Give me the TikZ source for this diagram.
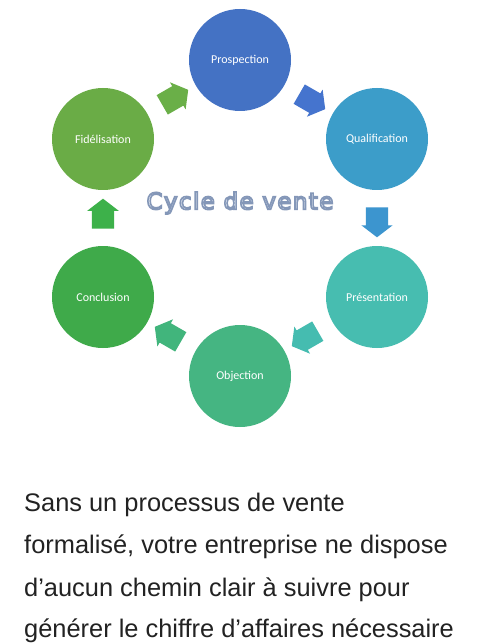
\documentclass[tikz,border=0pt]{standalone}
\usepackage{fontspec}
\setmainfont{Carlito}
\newfontfamily\titlefont[LetterSpace=6]{DejaVu Sans}
\newfontfamily\bodyfont{Liberation Sans}
\usepackage{xcolor}
\usetikzlibrary{calc}
\usetikzlibrary{shapes.arrows,positioning}

\definecolor{prospcol}{HTML}{4472C4}
\definecolor{qualcol}{HTML}{3C9DC9}
\definecolor{prescol}{HTML}{47BDB0}
\definecolor{objcol}{HTML}{45B582}
\definecolor{conccol}{HTML}{3FAA4A}
\definecolor{fidcol}{HTML}{6AAC46}
\definecolor{arrowa}{HTML}{4574CE}
\definecolor{arrowb}{HTML}{3C95CF}
\definecolor{arrowc}{HTML}{45BCB0}
\definecolor{arrowd}{HTML}{41B57C}
\definecolor{arrowe}{HTML}{3DB14A}
\definecolor{arrowf}{HTML}{6AAF48}
\definecolor{titlefill}{HTML}{F2F6FC}
\definecolor{bodytext}{HTML}{222222}

% texte creux : remplissage clair, contour bleu-gris
\newcommand{\contourtitre}[1]{\color{titlefill}%
	\special{pdf:literal direct 2 Tr 1.6 w 0.518 0.592 0.722 RG}#1%
	\special{pdf:literal direct 0 Tr}}

\tikzset{
	phase/.style={circle,minimum size=102pt,inner sep=0pt,text=white,
		font=\fontsize{12}{14}\selectfont},
	blockarrow/.style={single arrow,minimum height=30pt,inner xsep=0pt,inner ysep=11pt,
		single arrow head extend=4.5pt,single arrow tip angle=105},
	titletext/.style={font=\titlefont\fontsize{23}{27}\selectfont,inner sep=0pt},
	bodyline/.style={anchor=base west,inner sep=0pt,text=bodytext,
		font=\bodyfont\fontsize{25.4}{42}\selectfont}
}

\begin{document}
\begin{tikzpicture}[x=1pt,y=-1pt]
	\useasboundingbox[fill=white] (0,0) rectangle (480,644);
	% les six etapes
	\node[phase,fill=prospcol] (prospection) at (240,60) {Prospection};
	\node[phase,fill=qualcol] (qualification) at (377,139) {Qualification};
	\node[phase,fill=prescol] (presentation) at (377,297) {Présentation};
	\node[phase,fill=objcol] (objection) at (240,376) {Objection};
	\node[phase,fill=conccol] (conclusion) at (103,297) {Conclusion};
	\node[phase,fill=fidcol] (fidelisation) at (103,139) {Fidélisation};
	% fleches entre les etapes
	\node[blockarrow,fill=arrowa,rotate=-30] (flecheA) at ($(prospection)!0.5!(qualification)$) {};
	\node[blockarrow,fill=arrowb,rotate=-90] (flecheB) at ($(qualification)!0.5!(presentation)$) {};
	\node[blockarrow,fill=arrowc,rotate=-150] (flecheC) at ($(presentation)!0.5!(objection)$) {};
	\node[blockarrow,fill=arrowd,rotate=150] (flecheD) at ($(objection)!0.5!(conclusion)$) {};
	\node[blockarrow,fill=arrowe,rotate=90] (flecheE) at ($(conclusion)!0.5!(fidelisation)$) {};
	\node[blockarrow,fill=arrowf,rotate=30] (flecheF) at ($(fidelisation)!0.5!(prospection)$) {};
	% titre au centre
	\node[titletext] (titre) at (240,203) {\contourtitre{Cycle de vente}};
	% texte sous la figure
	\node[bodyline] (ligneA) at (24,511) {Sans un processus de vente};
	\node[bodyline] (ligneB) at (24,553) {formalisé, votre entreprise ne dispose};
	\node[bodyline] (ligneC) at (24,596) {d’aucun chemin clair à suivre pour};
	\node[bodyline] (ligneD) at (24,637) {générer le chiffre d’affaires nécessaire};
\end{tikzpicture}
\end{document}
